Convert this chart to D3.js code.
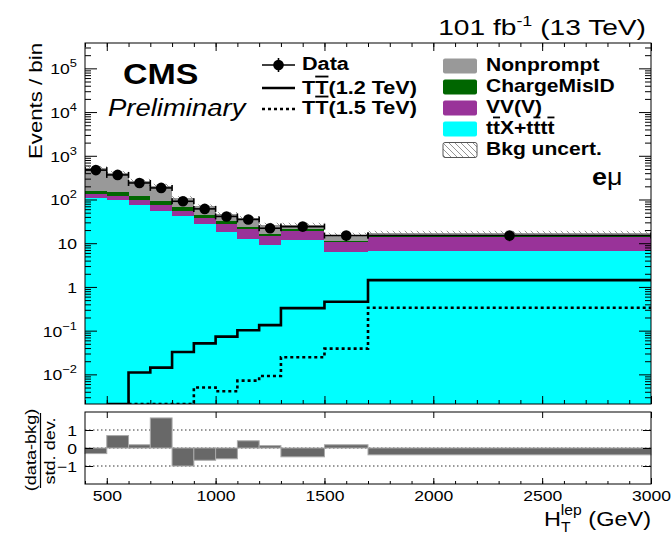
<!DOCTYPE html>
<html>
<head>
<meta charset="utf-8">
<script src="https://cdn.jsdelivr.net/npm/d3@7"></script>
<style>
  body { margin: 0; background: #fff; }
  svg { display: block; }
  text { font-family: "Liberation Sans", Arial, Helvetica, sans-serif; fill: #000; }
</style>
</head>
<body>
<script>
'use strict';
// bin edges in H_T^lep (GeV)
const binEdges = [400, 500, 600, 700, 800, 900, 1000, 1100, 1200, 1300, 1500, 1700, 3000];
// background yields per bin (events / bin)
const ttxBkg = [109, 96, 76.5, 56, 41, 27.7, 17.8, 12.8, 9.0, 12.1, 6.2, 6.6];
const vvBkg = [25, 22, 23, 20.5, 14.5, 10.3, 10.4, 8.5, 5.5, 7.4, 4.3, 7.3];
const chargeMisIdBkg = [26, 31, 23.5, 14.5, 12, 7.2, 3.6, 2.4, 1.9, 2.2, 1.0, 1.1];
const nonpromptBkg = [367, 256, 147, 117, 41, 25, 15, 14.3, 10.3, 5, 4.3, 2.5];
const dataCounts = [470, 365, 239, 184, 91, 61, 41, 35, 22, 24, 15, 15];
// signal templates
const sigTT12 = [0, 0.001, 0.011, 0.0143, 0.0325, 0.0513, 0.073, 0.102, 0.134, 0.328, 0.459, 1.43];
const sigTT15 = [0, 0, 0.001, 0.001, 0.001, 0.0050, 0.0041, 0.0072, 0.0092, 0.0246, 0.0388, 0.335];
// (data-bkg)/std. dev. per bin
const pulls = [-0.31, 0.69, 0.18, 1.67, -1.0, -0.68, -0.6, 0.40, 0.13, -0.49, 0.18, -0.38];
// axis ticks
const yMajorTicks = [1e-2, 1e-1, 1, 10, 1e2, 1e3, 1e4, 1e5];
const xMajorTicks = [500, 1000, 1500, 2000, 2500, 3000];
const ratioTicks = [-1, 0, 1];

const W = 672, H = 537;
const SX = 1.17; // ROOT fonts render a bit wider
const frame = { left: 85, right: 651, top: 43, bottom: 404 };
const rframe = { top: 412, bottom: 484 };
const yMin = 2.1e-3, yMax = 3.8e5;

const svg = d3.select('body').append('svg').attr('width', W).attr('height', H);

const x = d3.scaleLinear().domain([400, 3000]).range([frame.left, frame.right]);
const y = d3.scaleLog().domain([yMin, yMax]).range([frame.bottom, frame.top]).clamp(true);
const ry = d3.scaleLinear().domain([-2, 2]).range([rframe.bottom, rframe.top]);

function label(parent, x0, y0, rot, sx) {
  return parent.append('text')
    .attr('transform', 'translate(' + x0 + ',' + y0 + ')' + (rot ? ' rotate(' + rot + ')' : '') + ' scale(' + (sx || SX) + ',1)');
}

const defs = svg.append('defs');
defs.append('clipPath').attr('id', 'clipMain').append('rect')
  .attr('x', frame.left).attr('y', frame.top)
  .attr('width', frame.right - frame.left).attr('height', frame.bottom - frame.top);
const hatch = defs.append('pattern').attr('id', 'hatch')
  .attr('patternUnits', 'userSpaceOnUse').attr('width', 6).attr('height', 6);
hatch.append('path').attr('d', 'M0,0L6,6M-1,5L1,7M5,-1L7,1')
  .attr('stroke', '#7a7a7a').attr('stroke-width', 0.8);

const bins = binEdges.slice(0, -1).map((lo, i) => ({ lo: lo, hi: binEdges[i + 1], i: i }));

// ---- main panel ----
const plot = svg.append('g').attr('clip-path', 'url(#clipMain)');

const components = [
  { vals: ttxBkg, color: '#00ffff' },
  { vals: vvBkg, color: '#993399' },
  { vals: chargeMisIdBkg, color: '#006600' },
  { vals: nonpromptBkg, color: '#999999' }
];
let cum = bins.map(() => 0);
components.forEach((c) => {
  const lower = cum.slice();
  const upper = cum.map((v, i) => v + c.vals[i]);
  plot.append('g').selectAll('rect')
    .data(bins)
    .enter()
    .append('rect')
    .attr('x', (b) => x(b.lo))
    .attr('width', (b) => x(b.hi) - x(b.lo))
    .attr('y', (b) => y(upper[b.i]))
    .attr('height', (b) => y(lower[b.i]) - y(upper[b.i]))
    .attr('fill', c.color)
    .attr('shape-rendering', 'crispEdges');
  cum = upper;
});
const totalBkg = cum;

// background uncertainty band
plot.append('g').selectAll('rect')
  .data(bins)
  .enter()
  .append('rect')
  .attr('x', (b) => x(b.lo))
  .attr('width', (b) => x(b.hi) - x(b.lo))
  .attr('y', (b) => y(totalBkg[b.i] * 1.1))
  .attr('height', (b) => y(totalBkg[b.i] * 0.9) - y(totalBkg[b.i] * 1.1))
  .attr('fill', 'url(#hatch)');

// signal step lines
function stepPoints(vals) {
  let first = vals.findIndex((v) => v > 0);
  let pts = [];
  for (let i = first; i < vals.length; i++) pts.push([binEdges[i], Math.max(vals[i], yMin)]);
  pts.push([binEdges[vals.length], Math.max(vals[vals.length - 1], yMin)]);
  return pts;
}
const stepLine = d3.line()
  .x((d) => x(d[0]))
  .y((d) => y(d[1]))
  .curve(d3.curveStepAfter);
plot.append('path')
  .datum(stepPoints(sigTT12))
  .attr('fill', 'none')
  .attr('stroke', 'black')
  .attr('stroke-width', 2.6)
  .attr('d', stepLine);
plot.append('path')
  .datum(stepPoints(sigTT15))
  .attr('fill', 'none')
  .attr('stroke', 'black')
  .attr('stroke-width', 2.6)
  .attr('stroke-dasharray', '3,3')
  .attr('d', stepLine);

// data points
const dataG = plot.append('g');
bins.forEach((b) => {
  const n = dataCounts[b.i];
  const cx = x((b.lo + b.hi) / 2);
  const cy = y(n);
  const err = Math.sqrt(n);
  dataG.append('line').attr('x1', x(b.lo)).attr('x2', x(b.hi)).attr('y1', cy).attr('y2', cy)
    .attr('stroke', 'black').attr('stroke-width', 1.6);
  [x(b.lo), x(b.hi)].forEach((ex) => {
    dataG.append('line').attr('x1', ex).attr('x2', ex).attr('y1', cy - 3).attr('y2', cy + 3)
      .attr('stroke', 'black').attr('stroke-width', 1.6);
  });
  dataG.append('line').attr('x1', cx).attr('x2', cx).attr('y1', y(n + err)).attr('y2', y(n - err))
    .attr('stroke', 'black').attr('stroke-width', 1.6);
  dataG.append('circle').attr('cx', cx).attr('cy', cy).attr('r', 5.3).attr('fill', 'black');
});

// axes of main panel (ticks inward, all four sides)
function tickAxis(gen, tx, ty) {
  const g = svg.append('g').attr('transform', 'translate(' + tx + ',' + ty + ')').call(gen);
  g.select('.domain').remove();
  g.selectAll('line').attr('stroke', 'black');
  return g;
}
const xMinor = d3.range(400, 3001, 100);
tickAxis(d3.axisBottom(x).tickValues(xMinor).tickSize(-4).tickFormat(''), 0, frame.bottom);
tickAxis(d3.axisBottom(x).tickValues(xMajorTicks).tickSize(-8).tickFormat(''), 0, frame.bottom);
tickAxis(d3.axisTop(x).tickValues(xMinor).tickSize(-4).tickFormat(''), 0, frame.top);
tickAxis(d3.axisTop(x).tickValues(xMajorTicks).tickSize(-8).tickFormat(''), 0, frame.top);

const yMinor = [];
for (let e = -3; e <= 5; e++) {
  for (let m = 2; m <= 9; m++) {
    const v = m * Math.pow(10, e);
    if (v > yMin && v < yMax) yMinor.push(v);
  }
}
tickAxis(d3.axisLeft(y).tickValues(yMinor).tickSize(-6).tickFormat(''), frame.left, 0);
const yLeft = tickAxis(d3.axisLeft(y).tickValues(yMajorTicks).tickSize(-12).tickFormat(''), frame.left, 0);
tickAxis(d3.axisRight(y).tickValues(yMinor).tickSize(-6).tickFormat(''), frame.right, 0);
tickAxis(d3.axisRight(y).tickValues(yMajorTicks).tickSize(-12).tickFormat(''), frame.right, 0);

yLeft.selectAll('.tick').each(function (v) {
  const e = Math.round(Math.log10(v));
  const t = label(d3.select(this), -8, 5.4).attr('text-anchor', 'end').style('font-size', '15px');
  if (e === 0) t.text('1');
  else if (e === 1) t.text('10');
  else {
    t.append('tspan').text('10');
    t.append('tspan').attr('dy', -7).style('font-size', '11px').text(e < 0 ? '\u2212' + (-e) : e);
  }
});

svg.append('rect')
  .attr('x', frame.left).attr('y', frame.top)
  .attr('width', frame.right - frame.left).attr('height', frame.bottom - frame.top)
  .attr('fill', 'none').attr('stroke', 'black').attr('stroke-width', 1);

// ---- ratio panel ----
const ratioG = svg.append('g');
ratioTicks.forEach((v) => {
  ratioG.append('line')
    .attr('x1', frame.left).attr('x2', frame.right)
    .attr('y1', ry(v)).attr('y2', ry(v))
    .attr('stroke', 'black').attr('stroke-width', 0.8).attr('stroke-dasharray', '1.5,2.5');
});
ratioG.selectAll('rect.pull')
  .data(bins)
  .enter()
  .append('rect')
  .attr('class', 'pull')
  .attr('x', (b) => x(b.lo))
  .attr('width', (b) => x(b.hi) - x(b.lo))
  .attr('y', (b) => Math.min(ry(0), ry(pulls[b.i])))
  .attr('height', (b) => Math.abs(ry(pulls[b.i]) - ry(0)))
  .attr('fill', '#686868')
  .attr('stroke', '#a9a9a9')
  .attr('stroke-width', 1);

tickAxis(d3.axisBottom(x).tickValues(xMinor).tickSize(-3).tickFormat(''), 0, rframe.bottom);
const xr = tickAxis(d3.axisBottom(x).tickValues(xMajorTicks).tickSize(-6).tickFormat(''), 0, rframe.bottom);
xr.selectAll('.tick').each(function (v) {
  label(d3.select(this), 0, 17).attr('text-anchor', 'middle').style('font-size', '15px').text(v);
});
tickAxis(d3.axisTop(x).tickValues(xMajorTicks).tickSize(-6).tickFormat(''), 0, rframe.top);
const yr = tickAxis(d3.axisLeft(ry).tickValues(ratioTicks).tickSize(-8).tickFormat(''), frame.left, 0);
tickAxis(d3.axisRight(ry).tickValues(ratioTicks).tickSize(-8).tickFormat(''), frame.right, 0);
yr.selectAll('.tick').each(function (v) {
  label(d3.select(this), -8, 5.4).attr('text-anchor', 'end').style('font-size', '15px')
    .text(v < 0 ? '\u2212' + (-v) : v);
});
svg.append('rect')
  .attr('x', frame.left).attr('y', rframe.top)
  .attr('width', frame.right - frame.left).attr('height', rframe.bottom - rframe.top)
  .attr('fill', 'none').attr('stroke', 'black').attr('stroke-width', 1);

// ---- axis titles ----
label(svg, 42, 43, -90).attr('text-anchor', 'end').style('font-size', '19px').text('Events / bin');
label(svg, 36, 450, -90).attr('text-anchor', 'middle').style('font-size', '15.5px').text('(data-bkg)');
svg.append('line').attr('x1', 40.5).attr('x2', 40.5).attr('y1', 413).attr('y2', 488)
  .attr('stroke', 'black').attr('stroke-width', 1.2);
label(svg, 55, 451, -90).attr('text-anchor', 'middle').style('font-size', '15.5px').text('std. dev.');

const xt = label(svg, 651, 526, 0, 1.12).attr('text-anchor', 'end').style('font-size', '21px');
xt.append('tspan').text('H');
xt.append('tspan').attr('dy', 6).style('font-size', '14px').text('T');
xt.append('tspan').attr('dx', -8.6).attr('dy', -17).style('font-size', '14px').text('lep');
xt.append('tspan').attr('dy', 11).text(' (GeV)');

const lumi = label(svg, 646, 35, 0, 1.28).attr('text-anchor', 'end').style('font-size', '22px');
lumi.append('tspan').text('101 fb');
lumi.append('tspan').attr('dy', -9).style('font-size', '14px').text('-1');
lumi.append('tspan').attr('dy', 9).text(' (13 TeV)');

label(svg, 123, 84).style('font-size', '29px').style('font-weight', 'bold').text('CMS');
label(svg, 108, 116).style('font-size', '23.5px').style('font-style', 'italic').text('Preliminary');

// ---- legends ----
const legL = svg.append('g');
legL.append('line').attr('x1', 262).attr('x2', 295).attr('y1', 65).attr('y2', 65).attr('stroke', 'black').attr('stroke-width', 1.6);
legL.append('line').attr('x1', 278.5).attr('x2', 278.5).attr('y1', 58).attr('y2', 72).attr('stroke', 'black').attr('stroke-width', 1.6);
legL.append('circle').attr('cx', 278.5).attr('cy', 65).attr('r', 5.3).attr('fill', 'black');
legL.append('line').attr('x1', 262).attr('x2', 295).attr('y1', 88).attr('y2', 88).attr('stroke', 'black').attr('stroke-width', 2.6);
legL.append('line').attr('x1', 262).attr('x2', 295).attr('y1', 109).attr('y2', 109).attr('stroke', 'black').attr('stroke-width', 2.6).attr('stroke-dasharray', '3,3');
label(legL, 302, 70).style('font-size', '18.5px').style('font-weight', 'bold').text('Data');
[['1.2 TeV', 94], ['1.5 TeV', 114]].forEach((d) => {
  const t = label(legL, 302, d[1]).style('font-size', '18.5px').style('font-weight', 'bold');
  t.append('tspan').text('T');
  t.append('tspan').style('text-decoration', 'overline').text('T');
  t.append('tspan').text('(' + d[0] + ')');
});

const legR = svg.append('g');
const legEntries = [
  { color: '#999999', text: ['Nonprompt'] },
  { color: '#006600', text: ['ChargeMisID'] },
  { color: '#993399', text: ['VV(V)'] },
  { color: '#00ffff', text: ['t', 't\u0305', 'X+t', 't\u0305', 't', 't\u0305'] },
  { color: 'url(#hatch)', text: ['Bkg uncert.'] }
];
legEntries.forEach((e, i) => {
  const cy = 66 + i * 21;
  legR.append('rect').attr('x', 443).attr('y', cy - 7.5).attr('width', 34).attr('height', 15)
    .attr('rx', 2).attr('fill', e.color)
    .attr('stroke', i === 4 ? '#555' : 'none').attr('stroke-width', 1);
  const t = label(legR, 486, cy + 5).style('font-size', '18px').style('font-weight', 'bold');
  e.text.forEach((s) => {
    if (s === 't\u0305') t.append('tspan').style('text-decoration', 'overline').text('t');
    else t.append('tspan').text(s);
  });
});

const emu = label(svg, 592, 185).style('font-size', '23px');
emu.append('tspan').style('font-weight', 'bold').text('e');
emu.append('tspan').text('\u03bc');
</script>
</body>
</html>
